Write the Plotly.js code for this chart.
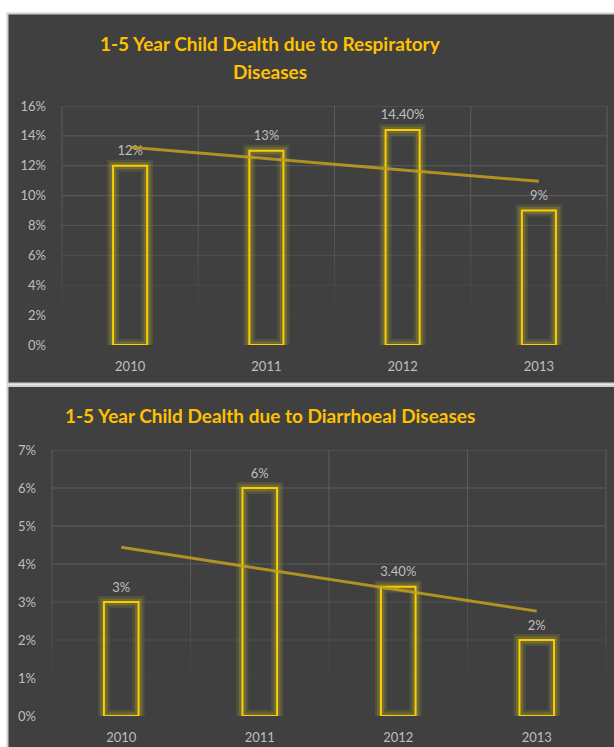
<!DOCTYPE html>
<html>
<head>
<meta charset="utf-8">
<script src="https://cdn.plot.ly/plotly-3.0.1.min.js"></script>
<style>
  html, body { margin: 0; padding: 0; background: #ffffff; }
  #chart { width: 614px; height: 747px; }
</style>
</head>
<body>
<div id="chart"></div>
<script>
// ---- data ----
const years = ['2010', '2011', '2012', '2013'];
const respiratoryShare = [0.12, 0.13, 0.144, 0.09];
const diarrhoealShare = [0.03, 0.06, 0.034, 0.02];
const respiratoryTitle = ['1-5 Year Child Dealth due to Respiratory', 'Diseases'];
const diarrhoealTitle = '1-5 Year Child Dealth due to Diarrhoeal Diseases';

// ---- helpers ----
const W = 614, H = 747;
const px = v => v / W;          // horizontal pixel -> paper
const py = v => 1 - v / H;      // vertical pixel -> paper

// data label text: whole percents as "12%", others with two decimals
function pctLabel(v) {
  const p = Math.round(v * 10000) / 100;
  return Number.isInteger(p) ? p + '%' : p.toFixed(2) + '%';
}

// least-squares linear trend over the category positions
function linearTrend(values) {
  const n = values.length;
  const xs = values.map((_, i) => i + 1);
  const mx = xs.reduce((a, b) => a + b, 0) / n;
  const my = values.reduce((a, b) => a + b, 0) / n;
  let sxy = 0, sxx = 0;
  xs.forEach((x, i) => { sxy += (x - mx) * (values[i] - my); sxx += (x - mx) * (x - mx); });
  const slope = sxy / sxx;
  return xs.map(x => my + slope * (x - mx));
}

const GOLD = '#FFCC00';
const LABEL_GRAY = '#bfbfbf';
const GRID = 'rgb(92,92,92)';
const FONT = 'Lato, "Open Sans", sans-serif';

function seriesTraces(values, xa, ya) {
  const common = { x: years, y: values, type: 'bar', xaxis: xa, yaxis: ya,
                   hoverinfo: 'skip', showlegend: false };
  return [
    // soft glow around the outlined columns
    Object.assign({}, common, { marker: { color: 'rgba(0,0,0,0)', line: { color: 'rgba(200,190,40,0.14)', width: 12 } } }),
    Object.assign({}, common, { marker: { color: 'rgba(0,0,0,0)', line: { color: 'rgba(205,195,40,0.22)', width: 7 } } }),
    // the outlined columns
    Object.assign({}, common, { marker: { color: 'rgba(0,0,0,0)', line: { color: GOLD, width: 2 } } }),
    // value labels above the columns
    { x: years, y: values, type: 'scatter', mode: 'markers+text', xaxis: xa, yaxis: ya,
      text: values.map(pctLabel), textposition: 'top center',
      textfont: { family: FONT, size: 13, color: LABEL_GRAY },
      marker: { size: 10, opacity: 0 }, hoverinfo: 'skip', showlegend: false },
    // linear trendline
    { x: years, y: linearTrend(values), type: 'scatter', mode: 'lines', xaxis: xa, yaxis: ya,
      line: { color: 'rgba(196,160,28,0.85)', width: 3 }, hoverinfo: 'skip', showlegend: false }
  ];
}

const data = [].concat(
  seriesTraces(respiratoryShare, 'x', 'y'),
  seriesTraces(diarrhoealShare, 'x2', 'y2')
);

const xCommon = {
  type: 'category', showgrid: false, showline: false, zeroline: false, ticks: '', fixedrange: true,
  tickfont: { family: FONT, size: 13, color: LABEL_GRAY }, ticklabelstandoff: 12
};
const yCommon = {
  showgrid: false, zeroline: false, showline: false,
  ticks: '', tickformat: '.0%', fixedrange: true,
  tickfont: { family: FONT, size: 13, color: LABEL_GRAY }, ticklabelstandoff: 15
};

// grid lines that fade out toward the bottom of the plot area
const fade = f => Math.max(0, Math.min(1, (f - 0.05) / 0.55));
function gridShapes(xa, ya, maxVal, steps, nCat) {
  const out = [];
  for (let i = 1; i <= steps; i++) {
    const f = i / steps;
    out.push({ type: 'line', layer: 'below', xref: xa + ' domain', yref: ya,
      x0: 0, x1: 1, y0: maxVal * f, y1: maxVal * f,
      opacity: fade(f), line: { color: GRID, width: 1 } });
  }
  const segs = 12;
  for (let c = 0; c <= nCat; c++) {
    for (let k = 0; k < segs; k++) {
      out.push({ type: 'line', layer: 'below', xref: xa + ' domain', yref: ya + ' domain',
        x0: c / nCat, x1: c / nCat, y0: k / segs, y1: (k + 1) / segs,
        opacity: fade((k + 0.5) / segs), line: { color: GRID, width: 1 } });
    }
  }
  return out;
}

const layout = {
  width: W, height: H,
  margin: { l: 0, r: 0, t: 0, b: 0, pad: 0 },
  paper_bgcolor: '#ffffff', plot_bgcolor: 'rgba(0,0,0,0)',
  barmode: 'overlay', bargap: 0.75,
  showlegend: false,
  xaxis: Object.assign({}, xCommon, { domain: [px(62), px(607)], anchor: 'y' }),
  yaxis: Object.assign({}, yCommon, { domain: [py(345), py(106)], range: [0, 0.16], dtick: 0.02, anchor: 'x' }),
  xaxis2: Object.assign({}, xCommon, { domain: [px(52), px(606)], anchor: 'y2' }),
  yaxis2: Object.assign({}, yCommon, { domain: [py(716), py(450)], range: [0, 0.07], dtick: 0.01, anchor: 'x2' }),
  shapes: [
    { type: 'rect', layer: 'below', xref: 'paper', yref: 'paper',
      x0: px(7.5), x1: px(630), y0: py(383.5), y1: py(13.5),
      fillcolor: '#404040', line: { color: '#d0d0d0', width: 2 } },
    { type: 'rect', layer: 'below', xref: 'paper', yref: 'paper',
      x0: px(7.5), x1: px(630), y0: py(760), y1: py(386),
      fillcolor: '#404040', line: { color: '#d0d0d0', width: 2 } }
  ].concat(gridShapes('x', 'y', 0.16, 8, years.length), gridShapes('x2', 'y2', 0.07, 7, years.length)),
  annotations: [
    { text: '<b>' + respiratoryTitle[0] + '</b>', xref: 'paper', yref: 'paper',
      x: px(270), y: py(43), xanchor: 'center', yanchor: 'middle', showarrow: false,
      font: { family: FONT, size: 19, color: '#FFC000' } },
    { text: '<b>' + respiratoryTitle[1] + '</b>', xref: 'paper', yref: 'paper',
      x: px(270), y: py(72), xanchor: 'center', yanchor: 'middle', showarrow: false,
      font: { family: FONT, size: 19, color: '#FFC000' } },
    { text: '<b>' + diarrhoealTitle + '</b>', xref: 'paper', yref: 'paper',
      x: px(270), y: py(415), xanchor: 'center', yanchor: 'middle', showarrow: false,
      font: { family: FONT, size: 19, color: '#FFC000' } }
  ]
};

Plotly.newPlot('chart', data, layout, { displayModeBar: false, staticPlot: true });
</script>
</body>
</html>
